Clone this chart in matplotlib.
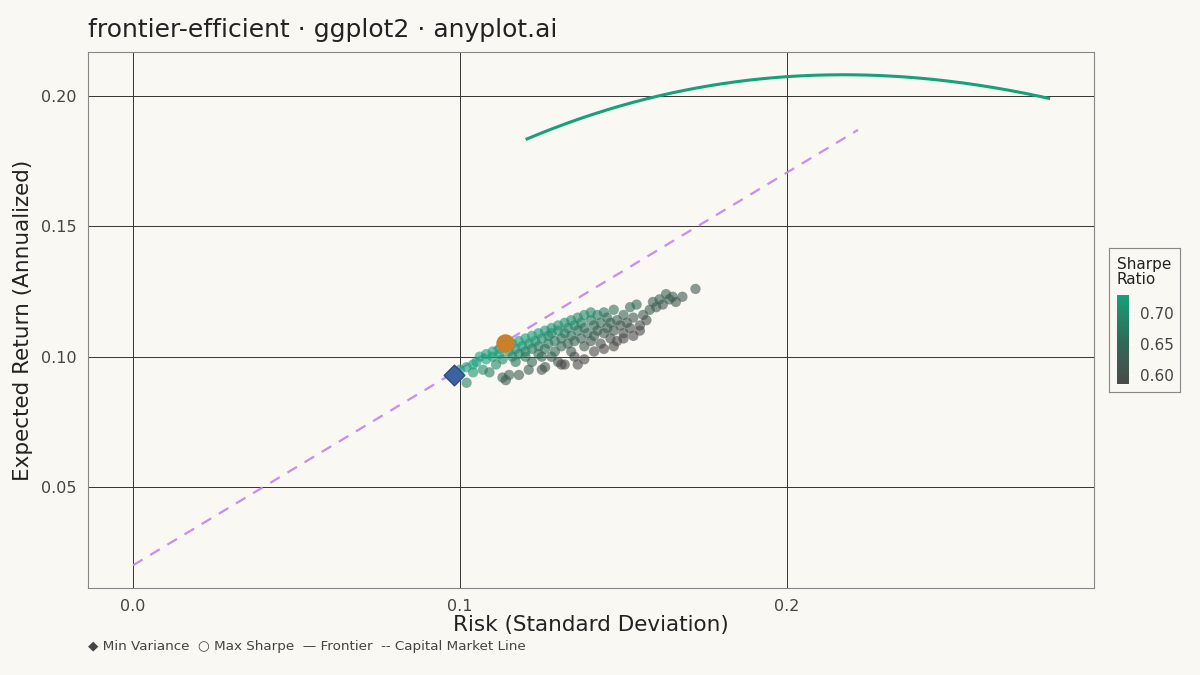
import matplotlib
matplotlib.use('Agg')
import matplotlib.pyplot as plt
from matplotlib.colors import LinearSegmentedColormap
import numpy as np

# simulated portfolios (risk, return)
risk = [0.100, 0.102, 0.104, 0.105, 0.107, 0.108, 0.109, 0.110, 0.111, 0.112, 0.113, 0.113, 0.114, 0.115,
        0.115, 0.116, 0.117, 0.117, 0.118, 0.119, 0.120, 0.120, 0.121, 0.122, 0.122, 0.123, 0.124, 0.124,
        0.125, 0.125, 0.126, 0.126, 0.127, 0.127, 0.128, 0.128, 0.129, 0.129, 0.130, 0.130, 0.131, 0.131,
        0.132, 0.132, 0.133, 0.133, 0.134, 0.134, 0.135, 0.135, 0.136, 0.136, 0.137, 0.137, 0.138, 0.138,
        0.139, 0.140, 0.140, 0.141, 0.141, 0.142, 0.142, 0.143, 0.143, 0.144, 0.144, 0.145, 0.145, 0.146,
        0.146, 0.147, 0.147, 0.148, 0.148, 0.149, 0.150, 0.150, 0.151, 0.152, 0.152, 0.153, 0.154, 0.155,
        0.156, 0.158, 0.159, 0.160, 0.161, 0.162, 0.163, 0.164, 0.165, 0.166, 0.168, 0.172,
        0.108, 0.110, 0.112, 0.114, 0.116, 0.118, 0.120, 0.122, 0.124, 0.126, 0.128, 0.130, 0.132, 0.134,
        0.136, 0.138, 0.140, 0.106, 0.104, 0.102, 0.099,
        0.131, 0.135, 0.138, 0.141, 0.144, 0.147, 0.150, 0.153, 0.155, 0.157, 0.118, 0.121, 0.125]
ret = [0.095, 0.090, 0.094, 0.098, 0.095, 0.099, 0.094, 0.100, 0.097, 0.101, 0.099, 0.092, 0.091, 0.093,
       0.102, 0.100, 0.098, 0.103, 0.101, 0.104, 0.100, 0.102, 0.105, 0.103, 0.098, 0.106, 0.104, 0.101,
       0.107, 0.095, 0.096, 0.103, 0.108, 0.105, 0.100, 0.109, 0.106, 0.102, 0.110, 0.098, 0.107, 0.104,
       0.097, 0.109, 0.111, 0.105, 0.108, 0.102, 0.112, 0.106, 0.110, 0.097, 0.107, 0.113, 0.111, 0.104,
       0.109, 0.114, 0.106, 0.112, 0.108, 0.116, 0.110, 0.105, 0.113, 0.117, 0.109, 0.111, 0.115, 0.107,
       0.113, 0.118, 0.110, 0.114, 0.106, 0.112, 0.116, 0.109, 0.113, 0.119, 0.111, 0.115, 0.120, 0.112,
       0.116, 0.118, 0.121, 0.119, 0.122, 0.120, 0.124, 0.122, 0.123, 0.121, 0.123, 0.126,
       0.101, 0.102, 0.103, 0.104, 0.105, 0.106, 0.107, 0.108, 0.109, 0.110, 0.111, 0.112, 0.113, 0.114,
       0.115, 0.116, 0.117, 0.100, 0.097, 0.096, 0.094,
       0.097, 0.100, 0.099, 0.102, 0.103, 0.104, 0.107, 0.108, 0.110, 0.114, 0.093, 0.095, 0.100]
risk_free = 0.02

frontier_risk = [0.1205, 0.135, 0.158, 0.1856, 0.213, 0.250, 0.280]
frontier_ret = [0.1835, 0.1905, 0.1996, 0.2055, 0.2078, 0.2060, 0.1990]

cml_risk = [0.0, 0.2217]
cml_ret = [0.020, 0.187]

min_var = (0.0982, 0.0930)
max_sharpe = (0.1138, 0.1053)

bg = '#FAF8F2'
risk = np.array(risk)
ret = np.array(ret)
sharpe = (ret - risk_free) / risk

cmap = LinearSegmentedColormap.from_list('sh', ['#4a4a4a', '#2f6b58', '#17A07A'])

fig = plt.figure(figsize=(12, 6.75), dpi=100, facecolor=bg)
ax = fig.add_axes([0.0733, 0.129, 0.8384, 0.794], facecolor=bg)

# smooth frontier through read points
fx = np.linspace(frontier_risk[0], frontier_risk[-1], 200)
fy = np.polyval(np.polyfit(frontier_risk, frontier_ret, 3), fx)
ax.plot(fx, fy, color='#17A07A', lw=2.2, zorder=3)
ax.plot(cml_risk, cml_ret, color='#C58EF0', lw=1.6, ls=(0, (5, 4)), zorder=2)
sc = ax.scatter(risk, ret, c=sharpe, cmap=cmap, vmin=0.585, vmax=0.73, s=55, alpha=0.6,
                edgecolors='none', zorder=4)
ax.scatter(*min_var, marker='D', s=110, color='#3D62A3', edgecolors='#2d4a80', zorder=5)
ax.scatter(*max_sharpe, marker='o', s=150, color='#C8802A', zorder=5)

ax.set_xlim(-0.0138, 0.2939)
ax.set_ylim(0.0113, 0.2169)
ax.set_xticks([0.0, 0.1, 0.2])
ax.set_xticklabels(['0.0', '0.1', '0.2'])
ax.set_yticks([0.05, 0.10, 0.15, 0.20])
ax.set_yticklabels(['0.05', '0.10', '0.15', '0.20'])
ax.grid(True, color='#333333', lw=0.7)
ax.tick_params(length=0, labelsize=11.5, labelcolor='#444444', pad=8)
for s in ax.spines.values():
    s.set_color('#888888')
    s.set_linewidth(0.8)
ax.set_xlabel('Risk (Standard Deviation)', fontsize=15.5, color='#222222', labelpad=1)
ax.set_ylabel('Expected Return (Annualized)', fontsize=15.5, color='#222222', labelpad=6)
fig.text(0.0733, 0.955, 'frontier-efficient · ggplot2 · anyplot.ai', fontsize=18, color='#222222',
         va='center')

# colorbar inside a boxed legend
box = fig.add_axes([1109 / 1200, 1 - 392 / 675, 71 / 1200, 144 / 675], facecolor=bg)
box.set_xticks([])
box.set_yticks([])
for s in box.spines.values():
    s.set_color('#888888')
    s.set_linewidth(0.8)
fig.text(1117 / 1200, 1 - 272 / 675, 'Sharpe\nRatio', fontsize=11, color='#222222',
         va='center', linespacing=0.95)
cax = fig.add_axes([1117 / 1200, 1 - 384 / 675, 12 / 1200, 89 / 675])
cax.set_zorder(5)
cb = fig.colorbar(sc, cax=cax)
cb.solids.set_alpha(1)
cb.outline.set_visible(False)
cb.set_ticks([0.60, 0.65, 0.70])
cb.set_ticklabels(['0.60', '0.65', '0.70'])
cax.tick_params(length=3, color='white', labelsize=11, labelcolor='#444444', pad=5)

fig.text(0.0733, 0.042, '◆ Min Variance  ○ Max Sharpe  — Frontier  -- Capital Market Line',
         fontsize=9.7, color='#444444', va='center')

fig.savefig('out.png', dpi=100, facecolor=bg)
